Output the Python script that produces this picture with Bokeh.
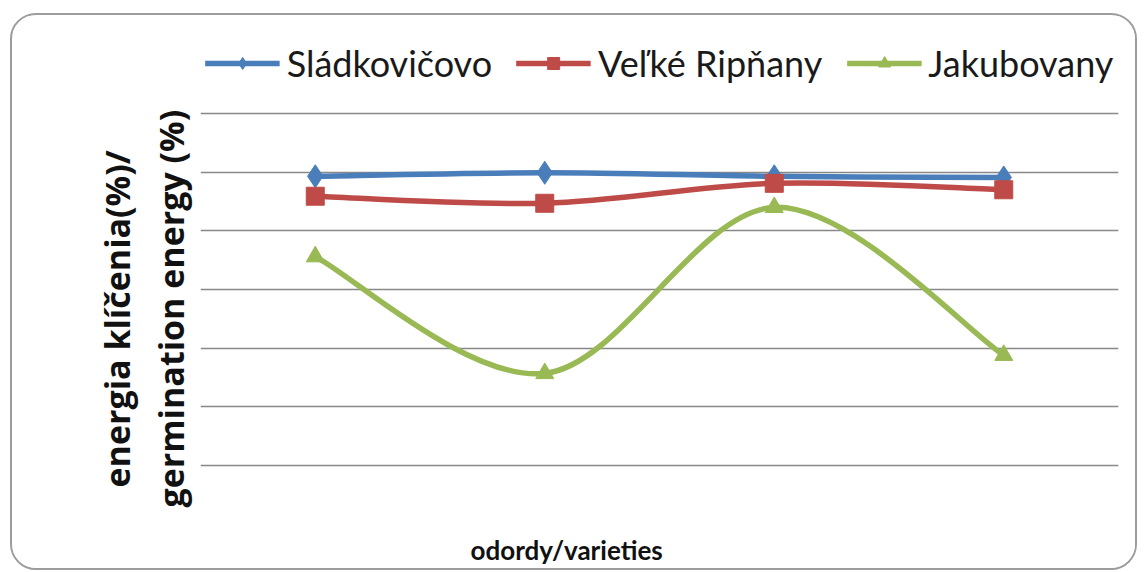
import numpy as np
from bokeh.plotting import figure
from bokeh.models import Grid, FixedTicker, Title, Legend, LegendItem, ColumnDataSource, Range1d
from bokeh.embed import file_html
from bokeh.resources import INLINE

# ---- data ----
varieties_idx = [0, 1, 2, 3]
series_names = ["Sládkovičovo", "Veľké Ripňany", "Jakubovany"]
sladkovicovo = [89.3, 89.9, 89.3, 89.1]
velke_ripnany = [85.9, 84.7, 88.1, 87.0]
jakubovany = [75.6, 55.7, 84.0, 58.8]
grid_values = [40, 50, 60, 70, 80, 90, 100]
y_label_line1 = "energia klíčenia(%)/"
y_label_line2 = "germination energy (%)"
x_label = "odordy/varieties"

colors = ["#4A7EBB", "#BE4B48", "#98B954"]
markers = ["diamond", "square", "triangle"]
marker_sizes = [23, 18, 18]

W, H = 1127, 557
p = figure(width=W, height=H, output_backend="svg", toolbar_location=None,
           x_axis_type=None, y_axis_type=None,
           x_range=Range1d(-0.5, 3.5), y_range=Range1d(29.78, 115.85),
           min_border_left=188, min_border_right=21, min_border_top=5, min_border_bottom=47)
p.outline_line_color = None
p.background_fill_color = "white"
p.border_fill_color = "white"
p.styles = {"border": "2px solid #9c9c9c", "border-radius": "26px",
            "margin-left": "10px", "margin-top": "13px", "overflow": "hidden"}

p.add_layout(Grid(dimension=1, ticker=FixedTicker(ticks=grid_values),
                  grid_line_color="#888888", grid_line_width=1.6))


def smooth_segments(xs, ys):
    xs = np.asarray(xs, float)
    ys = np.asarray(ys, float)
    n = len(xs)
    out = dict(x0=[], y0=[], x1=[], y1=[], cx0=[], cy0=[], cx1=[], cy1=[])
    for i in range(n - 1):
        i0, i3 = max(i - 1, 0), min(i + 2, n - 1)
        out["x0"].append(xs[i]); out["y0"].append(ys[i])
        out["x1"].append(xs[i + 1]); out["y1"].append(ys[i + 1])
        out["cx0"].append(xs[i] + (xs[i + 1] - xs[i0]) / 6)
        out["cy0"].append(ys[i] + (ys[i + 1] - ys[i0]) / 6)
        out["cx1"].append(xs[i + 1] - (xs[i3] - xs[i]) / 6)
        out["cy1"].append(ys[i + 1] - (ys[i3] - ys[i]) / 6)
    return out

items = []
for name, vals, c, m, ms in zip(series_names, [sladkovicovo, velke_ripnany, jakubovany],
                                colors, markers, marker_sizes):
    seg = ColumnDataSource(smooth_segments(varieties_idx, vals))
    bz = p.bezier(x0="x0", y0="y0", x1="x1", y1="y1", cx0="cx0", cy0="cy0", cx1="cx1", cy1="cy1",
                  source=seg, line_color=c, line_width=5.5)
    sc = p.scatter(x=varieties_idx, y=vals, marker=m, size=ms, fill_color=c, line_color=c)
    items.append(LegendItem(label=name, renderers=[bz, sc], index=0))

legend = Legend(items=items, orientation="horizontal", location="top_center",
                label_text_font="Lato", label_text_font_size="36px",
                label_text_color="#1a1a1a", glyph_width=75, glyph_height=30,
                label_standoff=7, spacing=24, padding=0, margin=21,
                border_line_color=None, background_fill_alpha=0)
p.add_layout(legend, "center")

# y-axis title (two lines), placed as left-side titles
p.add_layout(Title(text=y_label_line2, align="left", offset=18, standoff=13,
                   text_font="Open Sans", text_font_style="bold", text_font_size="34px",
                   text_color="#111111"), "left")
p.add_layout(Title(text=y_label_line1, align="left", offset=38, standoff=0,
                   text_font="Open Sans", text_font_style="bold", text_font_size="34px",
                   text_color="#111111"), "left")

# x-axis title
p.add_layout(Title(text=x_label, align="left", offset=270, standoff=12,
                   text_font="Lato", text_font_style="bold", text_font_size="26px",
                   text_color="#111111"), "below")

open("out.html", "w").write(file_html(p, INLINE))
